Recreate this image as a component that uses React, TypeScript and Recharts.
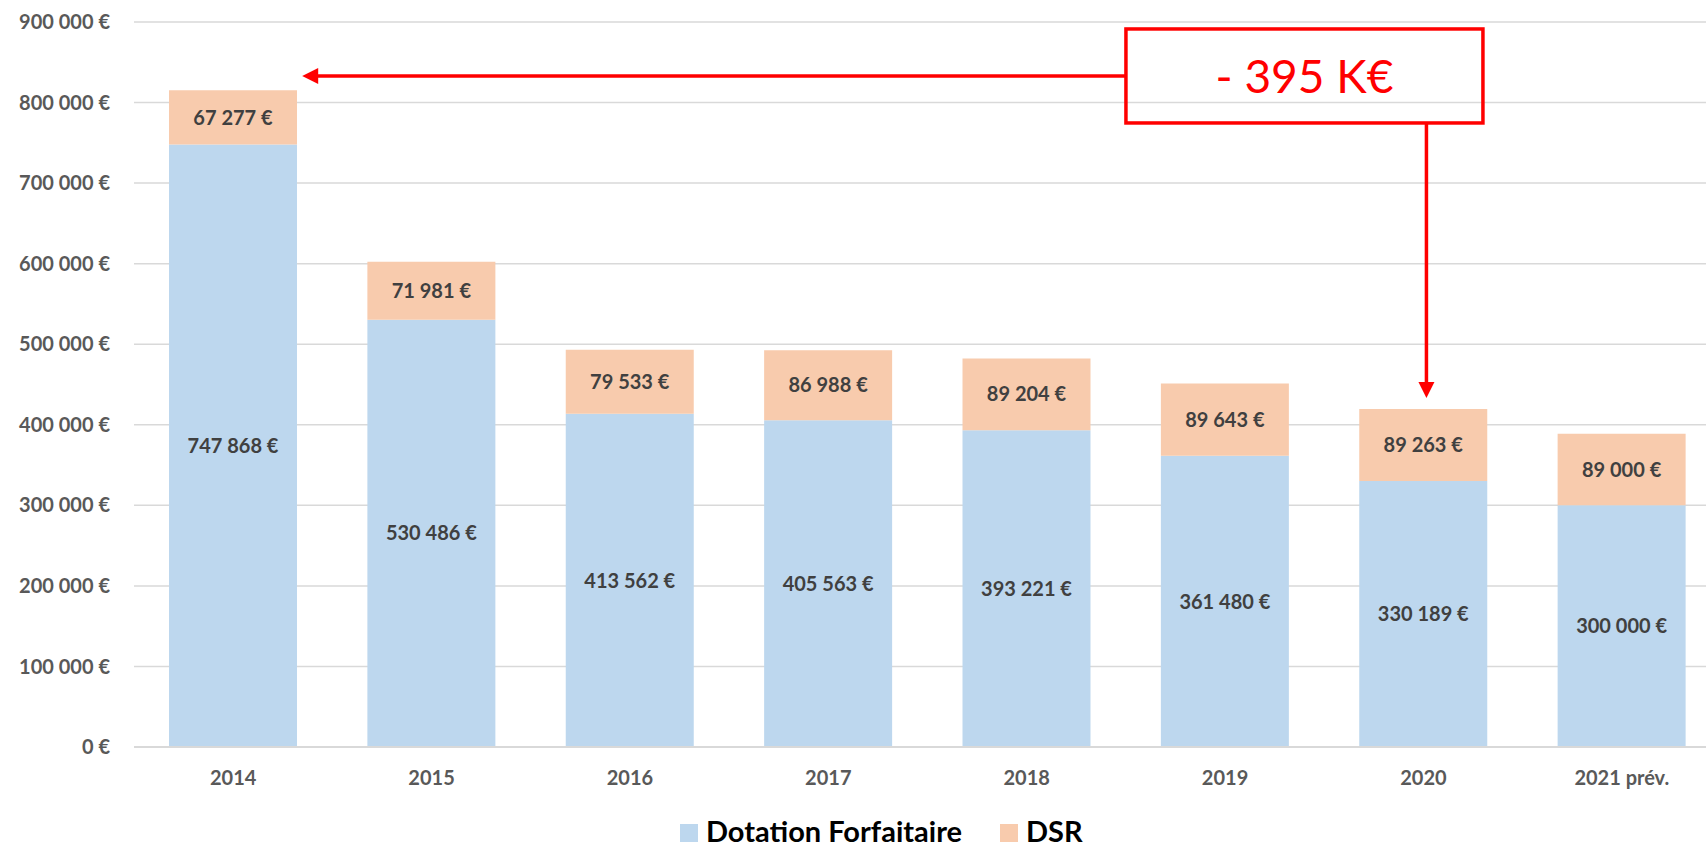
import React from "react";
import {
  BarChart,
  Bar,
  XAxis,
  YAxis,
  CartesianGrid,
  LabelList,
  Legend,
  ReferenceArea,
} from "recharts";

const years = ["2014", "2015", "2016", "2017", "2018", "2019", "2020", "2021 prév."];
const dotation = [747868, 530486, 413562, 405563, 393221, 361480, 330189, 300000];
const dsr = [67277, 71981, 79533, 86988, 89204, 89643, 89263, 89000];
const yTicks = [0, 100000, 200000, 300000, 400000, 500000, 600000, 700000, 800000, 900000];

// annotation: total drop 2014 -> 2020
const dropLabel = "- 395 K€";
const arrowLevel = 833000;
const fromYear = "2014";
const toYear = "2020";

const rows = years.map((year, i) => ({
  year,
  dotation: dotation[i],
  dsr: dsr[i],
}));

const fromIdx = years.indexOf(fromYear);
const toIdx = years.indexOf(toYear);
const toTotal = dotation[toIdx] + dsr[toIdx];

const FONT = "Lato, 'Open Sans', sans-serif";
const BLUE = "#BDD7EE";
const ORANGE = "#F8CBAD";
const RED = "#FF0000";

const euro = (v: number) =>
  String(Math.round(v)).replace(/\B(?=(\d{3})+(?!\d))/g, " ") + " €";

const tickStyle = { fontFamily: FONT, fontSize: 20, fontWeight: 700, fill: "#595959" };

// the area spans from the start of the first band to the end of the last one
function DropAnnotation(props: any) {
  const { x, y, width, height } = props;
  const band = width / (toIdx - fromIdx + 1);
  const fromCx = x + band / 2;
  const toCx = x + width - band / 2 + 3;
  const top = y;
  const bottom = y + height;
  const boxW = 357;
  const boxH = 94;
  const boxCx = toCx - 122;
  const boxX = boxCx - boxW / 2;
  const boxY = top - boxH / 2;
  const tipX = fromCx + 69;
  const tipY = bottom - 11;
  return (
    <g>
      <line x1={boxX} y1={top} x2={tipX + 14} y2={top} stroke={RED} strokeWidth={3.5} />
      <polygon points={`${tipX},${top} ${tipX + 16},${top - 8} ${tipX + 16},${top + 8}`} fill={RED} />
      <line x1={toCx} y1={boxY + boxH} x2={toCx} y2={tipY - 14} stroke={RED} strokeWidth={3.5} />
      <polygon points={`${toCx},${tipY} ${toCx - 8},${tipY - 16} ${toCx + 8},${tipY - 16}`} fill={RED} />
      <rect x={boxX} y={boxY} width={boxW} height={boxH} fill="none" stroke={RED} strokeWidth={3.5} />
      <text
        x={boxCx}
        y={top}
        textAnchor="middle"
        dominantBaseline="central"
        fontFamily={FONT}
        fontSize={46}
        fill={RED}
      >
        {dropLabel}
      </text>
    </g>
  );
}

function LegendContent() {
  const items = [
    { name: "Dotation Forfaitaire", color: BLUE },
    { name: "DSR", color: ORANGE },
  ];
  return (
    <div
      style={{
        display: "flex",
        alignItems: "baseline",
        gap: 38,
        fontFamily: FONT,
        fontSize: 29,
        fontWeight: 700,
        color: "#000",
        lineHeight: 0.9,
        whiteSpace: "nowrap",
      }}
    >
      {items.map((it) => (
        <div key={it.name} style={{ display: "flex", alignItems: "baseline", gap: 8 }}>
          <span style={{ display: "inline-block", width: 18, height: 18, background: it.color }} />
          <span>{it.name}</span>
        </div>
      ))}
    </div>
  );
}

export default function App() {
  return (
    <div
      style={{
        position: "absolute",
        left: 0,
        top: 0,
        width: 1706,
        height: 849,
        overflow: "hidden",
        background: "#fff",
        fontFamily: FONT,
      }}
    >
      <BarChart
        width={1730}
        height={849}
        data={rows}
        margin={{ top: 22, right: 9, left: 0, bottom: 72 }}
      >
        <CartesianGrid vertical={false} stroke="#d9d9d9" strokeWidth={1.5} />
        <XAxis
          dataKey="year"
          height={30}
          tickLine={false}
          tickSize={0}
          tickMargin={24}
          axisLine={{ stroke: "#d9d9d9", strokeWidth: 2 }}
          tick={tickStyle}
        />
        <YAxis
          width={134}
          domain={[0, 900000]}
          ticks={yTicks}
          tickFormatter={euro}
          axisLine={false}
          tickLine={false}
          tickSize={0}
          tickMargin={24}
          tick={tickStyle}
        />
        <Bar dataKey="dotation" stackId="a" fill={BLUE} barSize={128} isAnimationActive={false}>
          <LabelList
            dataKey="dotation"
            position="center"
            formatter={(v: any) => euro(Number(v))}
            fill="#404040"
            fontFamily={FONT}
            fontSize={20}
            fontWeight={700}
          />
        </Bar>
        <Bar dataKey="dsr" stackId="a" fill={ORANGE} barSize={128} isAnimationActive={false}>
          <LabelList
            dataKey="dsr"
            position="center"
            formatter={(v: any) => euro(Number(v))}
            fill="#404040"
            fontFamily={FONT}
            fontSize={20}
            fontWeight={700}
          />
        </Bar>
        <ReferenceArea
          x1={fromYear}
          x2={toYear}
          y1={toTotal}
          y2={arrowLevel}
          ifOverflow="visible"
          shape={(p: any) => <DropAnnotation {...p} />}
        />
        <Legend
          layout="vertical"
          align="center"
          verticalAlign="middle"
          wrapperStyle={{ left: 680, top: 818, width: "auto", height: 26 }}
          content={() => <LegendContent />}
        />
      </BarChart>
    </div>
  );
}
